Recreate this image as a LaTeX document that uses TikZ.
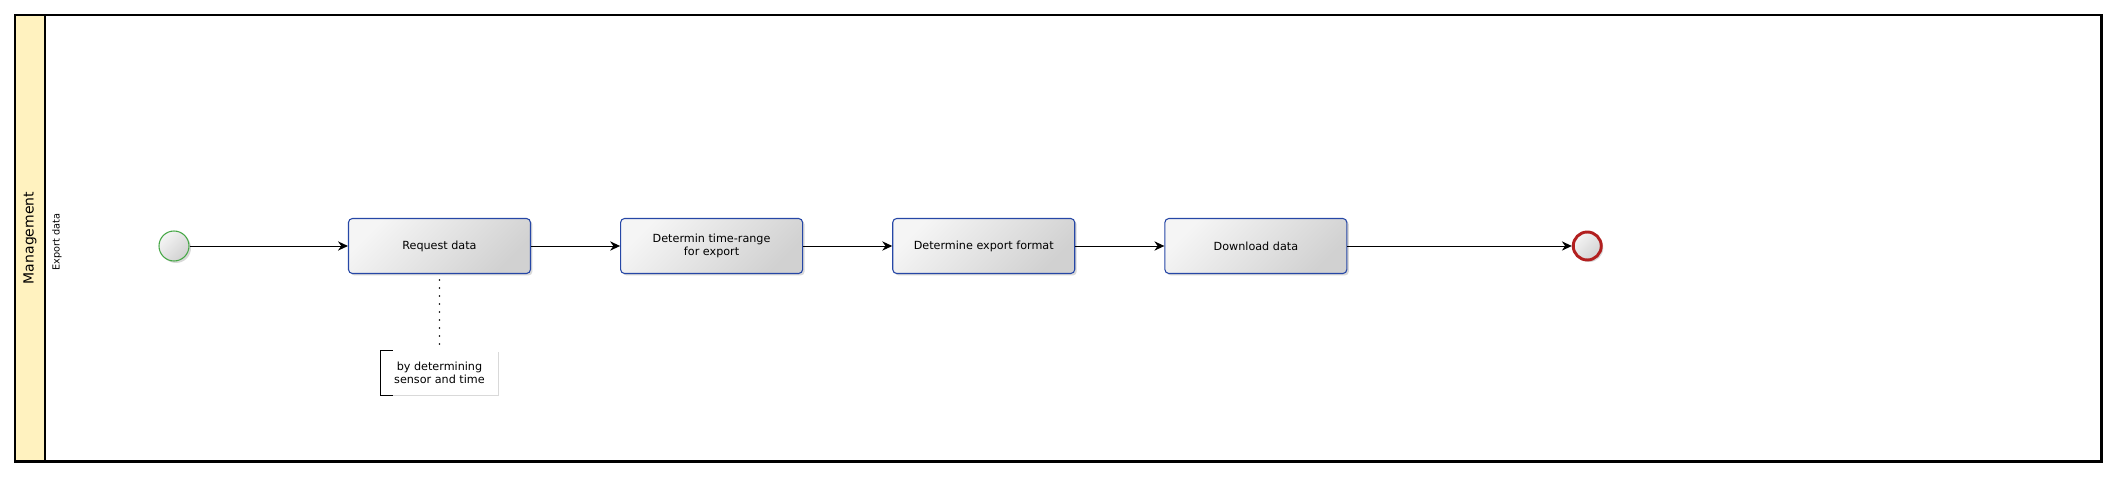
\documentclass[tikz,border=0pt]{standalone}
\usepackage{fontspec}
\setmainfont{DejaVu Sans}
\usetikzlibrary{arrows.meta,positioning,shadows}
\definecolor{bpool}{HTML}{FFF2BF}
\definecolor{bblue}{HTML}{2647A6}
\definecolor{bgreen}{HTML}{47A847}
\definecolor{bred}{HTML}{B21F1F}
\tikzset{
  poolframe/.style={draw=black,line width=2.2pt},
  task/.style={draw=bblue,line width=0.8pt,rounded corners=3pt,top color=black!4,bottom color=black!18,shading angle=45,minimum width=136.5pt,minimum height=41.25pt,align=center,font=\fontsize{8.4pt}{10pt}\selectfont,inner sep=2pt,drop shadow={shadow xshift=1.5pt,shadow yshift=-1.5pt,opacity=0.25,fill=black!60}},
  startev/.style={circle,draw=bgreen,line width=0.8pt,top color=black!4,bottom color=black!18,shading angle=45,minimum size=22.5pt,inner sep=0pt,drop shadow={shadow xshift=1.5pt,shadow yshift=-1.5pt,opacity=0.25,fill=black!60}},
  endev/.style={circle,draw=bred,line width=2.2pt,top color=black!4,bottom color=black!18,shading angle=45,minimum size=21pt,inner sep=0pt,drop shadow={shadow xshift=1.5pt,shadow yshift=-1.5pt,opacity=0.25,fill=black!60}},
  note/.style={fill=white,minimum width=87.75pt,minimum height=33.5pt,align=center,font=\fontsize{8.4pt}{10pt}\selectfont,inner sep=1pt,drop shadow={shadow xshift=1pt,shadow yshift=-1pt,opacity=0.3,fill=black!50}},
  flow/.style={-{Stealth[length=7.5pt,width=7pt,inset=2.5pt]},line width=0.7pt,draw=black},
  assoc/.style={line width=1.4pt,draw=black,line cap=round,dash pattern=on 0pt off 6pt},
  lbl/.style={rotate=90,font=\fontsize{7.3pt}{9pt}\selectfont},
}
\begin{document}
\begin{tikzpicture}[x=0.75pt,y=-0.75pt,node distance=66.8pt]
  \useasboundingbox (0,0) rectangle (2117,477);
  % pool and lane
  \draw[poolframe] (15,15) rectangle (2101.5,461.5);
  \draw[poolframe,fill=bpool] (15,15) rectangle (45,461.5);
  \node[rotate=90,font=\fontsize{10.5pt}{12pt}\selectfont] (pool) at (30,238) {Management};
  \node[lbl] (lane) at (57,242) {Export data};
  % flow
  \node[startev] (start) at (174,246) {};
  \node[task,right=118.8pt of start] (req) {Request data};
  \node[task,right=of req] (range) {Determin time-range\\ for export};
  \node[task,right=of range] (fmt) {Determine export format};
  \node[task,right=of fmt] (dl) {Download data};
  \node[endev,right=168.3pt of dl] (end) {};
  \node[note,below=57pt of req] (ann) {by determining\\ sensor and time};
  \draw[line width=0.8pt] ([xshift=9pt]ann.north west) -- (ann.north west) -- (ann.south west) -- ++(9pt,0);
  \draw[flow] (start) -- (req); \draw[flow] (req) -- (range); \draw[flow] (range) -- (fmt);
  \draw[flow] (fmt) -- (dl); \draw[flow] (dl) -- (end);
  \draw[assoc] ([yshift=-4.5pt]req.south) -- ([yshift=4.5pt]ann.north);
\end{tikzpicture}
\end{document}
